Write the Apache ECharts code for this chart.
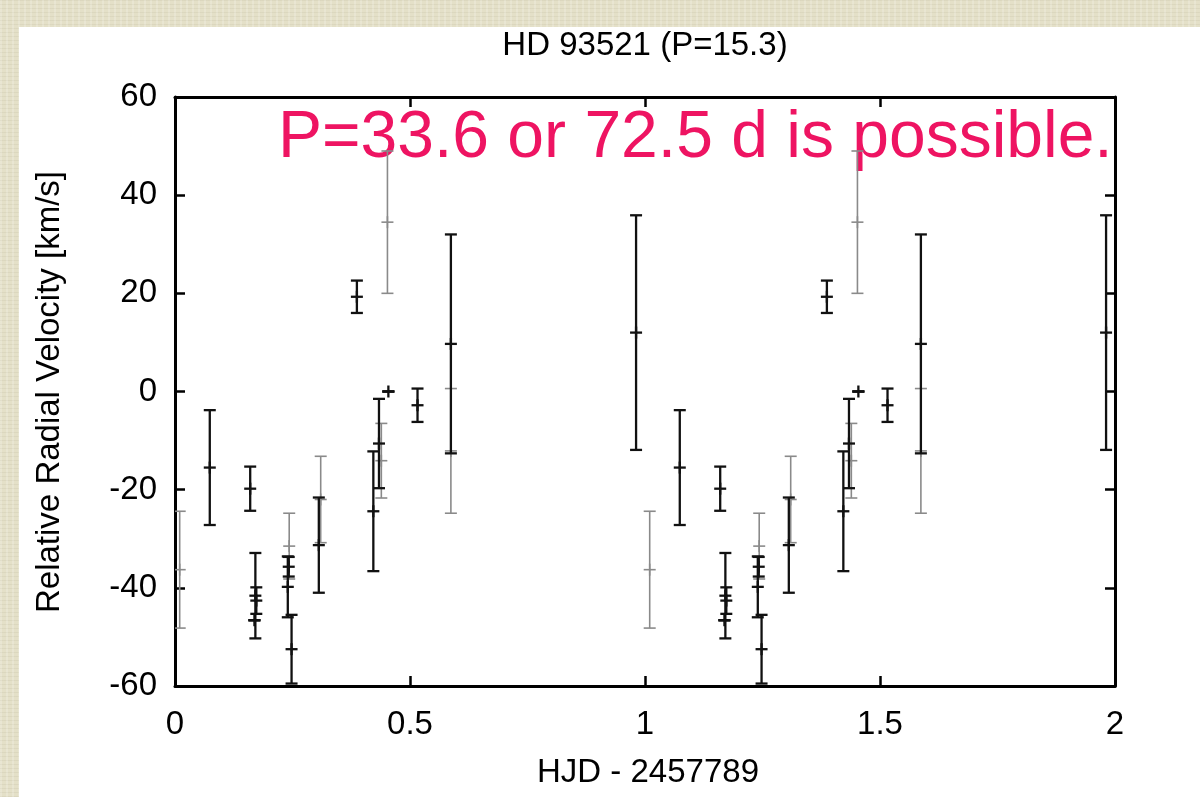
<!DOCTYPE html>
<html>
<head>
<meta charset="utf-8">
<script src="https://cdn.jsdelivr.net/npm/echarts@6/dist/echarts.min.js"></script>
<style>
  html, body { margin: 0; padding: 0; }
  body {
    width: 1200px; height: 797px; overflow: hidden; position: relative;
    background-color: #e4e0c8;
    background-image:
      repeating-linear-gradient(90deg, rgba(255,255,255,0.18) 0 2px, rgba(0,0,0,0) 2px 6px),
      repeating-linear-gradient(0deg, rgba(120,110,80,0.08) 0 1px, rgba(0,0,0,0) 1px 4px);
  }
  #panel { position: absolute; left: 19px; top: 27px; width: 1181px; height: 770px; background: #ffffff; }
  #chart { position: absolute; left: 0; top: 0; width: 1200px; height: 797px; }
</style>
</head>
<body>
<div id="panel"></div>
<div id="chart"></div>
<script>
// ---- data (phase, velocity [km/s], error [km/s]) ----
const phaseBlack = [0.074, 0.160, 0.171, 0.173, 0.169, 0.240, 0.242, 0.248, 0.306, 0.387, 0.454, 0.422, 0.434, 0.516, 0.587, 0.981];
const velBlack   = [-15.5, -19.8, -41.6, -42.6, -46.6, -39.8, -35.7, -52.5, -31.3, 19.3, 0.0, -24.4, -10.6, -2.8, 9.7, 12.0];
const errBlack   = [11.7, 4.5, 8.7, 2.7, 0, 6.2, 2.0, 7.0, 9.7, 3.3, 0, 12.2, 9.1, 3.4, 22.3, 23.9];

const phaseGray = [0.010, 0.243, 0.310, 0.452, 0.439, 0.587];
const velGray   = [-36.3, -31.5, -22.0, 34.5, -14.1, -12.1];
const errGray   = [11.9, 6.7, 8.8, 14.5, 7.6, 12.7];

const xTicks = [0, 0.5, 1, 1.5, 2];
const yTicks = [-60, -40, -20, 0, 20, 40, 60];

const titleText = 'HD 93521 (P=15.3)';
const xName = 'HJD - 2457789';
const yName = 'Relative Radial Velocity [km/s]';
const note = 'P=33.6 or 72.5 d is possible.';

// two cycles: phase and phase + 1
function build(ph, v, e) {
  const out = [];
  for (let i = 0; i < ph.length; i++) {
    out.push([ph[i], v[i], e[i]]);
    out.push([ph[i] + 1, v[i], e[i]]);
  }
  return out;
}

function makeRender(color, width) {
  return function (params, api) {
    const x = api.value(0), v = api.value(1), e = api.value(2);
    const top = api.coord([x, v + e]);
    const bot = api.coord([x, v - e]);
    const c = api.coord([x, v]);
    const hw = 6;
    const st = { stroke: color, lineWidth: width, fill: null };
    return {
      type: 'group',
      children: [
        { type: 'line', shape: { x1: top[0], y1: top[1], x2: bot[0], y2: bot[1] }, style: st },
        { type: 'line', shape: { x1: top[0] - hw, y1: top[1], x2: top[0] + hw, y2: top[1] }, style: st },
        { type: 'line', shape: { x1: bot[0] - hw, y1: bot[1], x2: bot[0] + hw, y2: bot[1] }, style: st },
        { type: 'line', shape: { x1: c[0] - hw, y1: c[1], x2: c[0] + hw, y2: c[1] }, style: st },
        { type: 'line', shape: { x1: c[0], y1: c[1] - hw, x2: c[0], y2: c[1] + hw }, style: st }
      ]
    };
  };
}

const FONT = '"Liberation Sans", Arial, Helvetica, sans-serif';
const chart = echarts.init(document.getElementById('chart'), null, { renderer: 'canvas' });

const axisCommon = {
  axisLine: { show: true, onZero: false, lineStyle: { color: '#000', width: 3 } },
  axisTick: { show: true, inside: true, length: 10, lineStyle: { color: '#000', width: 2.5 } },
  splitLine: { show: false }
};

chart.setOption({
  backgroundColor: 'transparent',
  animation: false,
  grid: { left: 175, right: 85, top: 97, bottom: 111 },
  xAxis: [
    Object.assign({
      type: 'value', min: xTicks[0], max: xTicks[xTicks.length - 1], interval: 0.5,
      position: 'bottom',
      axisLabel: { show: true, margin: 22, color: '#000', fontSize: 33, fontFamily: FONT,
        formatter: v => String(v) }
    }, axisCommon),
    Object.assign({
      type: 'value', min: xTicks[0], max: xTicks[xTicks.length - 1], interval: 0.5,
      position: 'top', axisLabel: { show: false }
    }, axisCommon)
  ],
  yAxis: [
    Object.assign({
      type: 'value', min: yTicks[0], max: yTicks[yTicks.length - 1], interval: 20,
      position: 'left',
      axisLabel: { show: true, margin: 18, color: '#000', fontSize: 33, fontFamily: FONT }
    }, axisCommon),
    Object.assign({
      type: 'value', min: yTicks[0], max: yTicks[yTicks.length - 1], interval: 20,
      position: 'right', axisLabel: { show: false }
    }, axisCommon)
  ],
  series: [
    {
      type: 'custom', name: 'gray', clip: true, xAxisIndex: 0, yAxisIndex: 0,
      renderItem: makeRender('#8a8a8a', 1.6),
      data: build(phaseGray, velGray, errGray), z: 2
    },
    {
      type: 'custom', name: 'black', clip: true, xAxisIndex: 0, yAxisIndex: 0,
      renderItem: makeRender('#111111', 2.3),
      data: build(phaseBlack, velBlack, errBlack), z: 3
    }
  ],
  graphic: [
    { type: 'text', x: 645, y: 46, z: 10,
      style: { text: titleText, font: '33px ' + FONT, fill: '#000', align: 'center', verticalAlign: 'middle' } },
    { type: 'text', x: 648, y: 773, z: 10,
      style: { text: xName, font: '33px ' + FONT, fill: '#000', align: 'center', verticalAlign: 'middle' } },
    { type: 'text', x: 50, y: 392, rotation: Math.PI / 2, z: 10,
      style: { text: yName, font: '33px ' + FONT, fill: '#000', align: 'center', verticalAlign: 'middle' } },
    { type: 'text', x: 278, y: 106, z: 1,
      style: { text: note, font: '66px ' + FONT, fill: '#ee1462', align: 'left', verticalAlign: 'top' } }
  ]
});
</script>
</body>
</html>
